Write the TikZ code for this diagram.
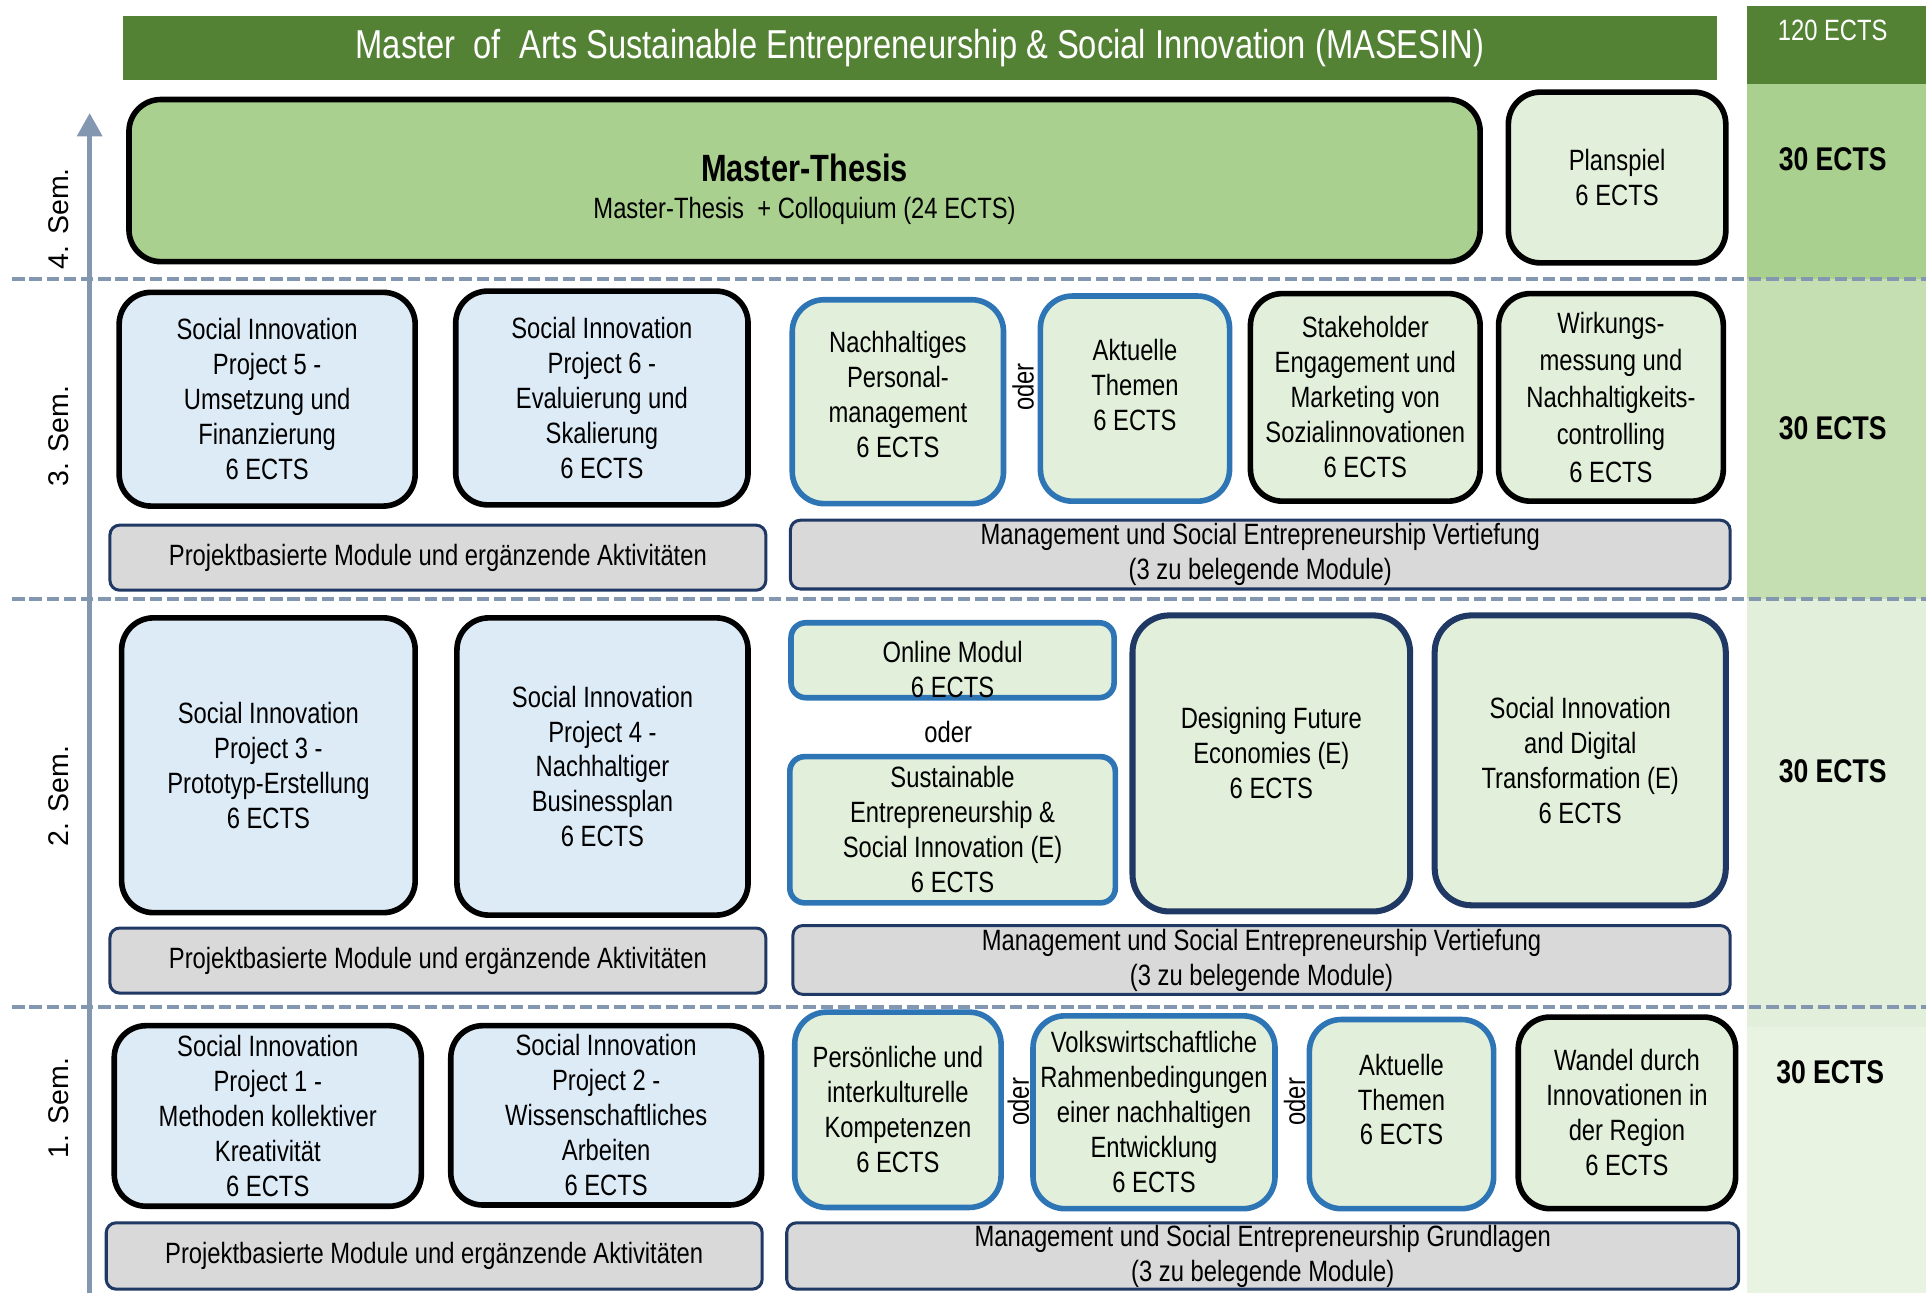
\documentclass[tikz,border=0pt]{standalone}
\usepackage{fontspec}
\setmainfont{Liberation Sans}[FakeStretch=0.81]
\newfontfamily\semfont{Liberation Sans}
\usetikzlibrary{arrows.meta}
\definecolor{darkgreen}{HTML}{548235}
\definecolor{midgreen}{HTML}{A9D08E}
\definecolor{palegreen}{HTML}{C6DFB2}
\definecolor{lightgreen}{HTML}{E2EFDA}
\definecolor{faintgreen}{HTML}{E8F3E1}
\definecolor{lightblue}{HTML}{DDEBF7}
\definecolor{modblue}{HTML}{2E75B6}
\definecolor{navy}{HTML}{203864}
\definecolor{stripgray}{HTML}{D9D9D9}
\definecolor{axisgray}{HTML}{8497B0}

\begin{document}
\begin{tikzpicture}[x=1mm, y=-1mm,
                    every node/.style={font=\fontsize{6.8}{8.1}\selectfont, align=center, inner sep=0pt},
                    project/.style={rectangle, draw=black, line width=1.3pt, fill=lightblue, rounded corners=2.6mm},
                    core/.style={rectangle, draw=black, line width=1.3pt, fill=lightgreen, rounded corners=2.6mm},
                    choice/.style={rectangle, draw=modblue, line width=1.3pt, fill=lightgreen, rounded corners=2.6mm},
                    elective/.style={rectangle, draw=navy, line width=1.4pt, fill=lightgreen, rounded corners=3mm},
                    strip/.style={rectangle, draw=navy, line width=0.7pt, fill=stripgray, rounded corners=0.8mm},
                    semline/.style={draw=axisgray, line width=0.9pt, dash pattern=on 1mm off 0.4mm},
                    sem/.style={rotate=90, font=\semfont\fontsize{6.6}{8}\selectfont},
                    oder/.style={rotate=90},
                    ects/.style={font=\fontsize{7.6}{9}\selectfont\bfseries},
                    ]

\useasboundingbox (0,0) rectangle (156.8,105.3);

% ECTS column
\fill[faintgreen] (142.2,83.6) rectangle (156.8,105.3);
\fill[lightgreen] (142.2,48.8) rectangle (156.8,83.6);
\fill[palegreen] (142.2,22.7) rectangle (156.8,48.8);
\fill[midgreen] (142.2,6.8) rectangle (156.8,22.7);
\fill[darkgreen] (142.2,0.5) rectangle (156.8,6.8);
\node[text=white, font=\fontsize{6.8}{8}\selectfont] (total) at (149.2,2.5) {120 ECTS};
\node[ects] (e4) at (149.2,13.0) {30 ECTS};
\node[ects] (e3) at (149.2,34.9) {30 ECTS};
\node[ects] (e2) at (149.2,62.8) {30 ECTS};
\node[ects] (e1) at (149.0,87.3) {30 ECTS};

% title
\node[fill=darkgreen, text=white, minimum width=129.8mm, minimum height=5.2mm,
      font=\fontsize{9.35}{10}\selectfont] (title) at (74.9,3.9)
      {Master~ of~ Arts Sustainable Entrepreneurship \& Social Innovation (MASESIN)};

% semester lines and axis
\foreach \y in {22.7,48.8,82.0}
  \draw[semline] (1.0,\y) -- (156.8,\y);
\coordinate (axisbot) at (7.3,105.3);
\coordinate (axistop) at (7.3,9.2);
\draw[axisgray, line width=1.1pt, -{Triangle[width=2mm,length=1.9mm]}] (axisbot) -- (axistop);

\node[sem] (s4) at (4.8,17.8) {4. Sem.};
\node[sem] (s3) at (4.8,35.5) {3. Sem.};
\node[sem] (s2) at (4.8,64.8) {2. Sem.};
\node[sem] (s1) at (4.8,90.2) {1. Sem.};

% 4. Semester
\node[core, fill=midgreen, minimum width=110mm, minimum height=13.2mm] (thesis) at (65.5,14.7)
      {\rule{0pt}{3.7mm}{\fontsize{8.8}{10.5}\selectfont\bfseries Master-Thesis}\\[0.2mm] Master-Thesis~ + Colloquium (24 ECTS)};
\node[core, minimum width=17.7mm, minimum height=13.9mm] (planspiel) at (131.65,14.45)
      {Planspiel\\6 ECTS};

% 3. Semester
\node[project, minimum width=24.1mm, minimum height=17.4mm] (sip5) at (21.75,32.5)
      {Social Innovation\\Project 5 -\\Umsetzung und\\Finanzierung\\6 ECTS};
\node[project, minimum width=23.8mm, minimum height=17.4mm] (sip6) at (49.0,32.4)
      {Social Innovation\\Project 6 -\\Evaluierung und\\Skalierung\\6 ECTS};
\node[choice, minimum width=17.2mm, minimum height=16.6mm, text depth=1.2mm] (personal) at (73.1,32.7)
      {Nachhaltiges\\Personal-\\management\\6 ECTS};
\node[oder] (oder3) at (83.3,31.5) {oder};
\node[choice, minimum width=15.4mm, minimum height=16.7mm, text depth=2.2mm] (themen3) at (92.4,32.45)
      {Aktuelle\\Themen\\6 ECTS};
\node[core, minimum width=18.7mm, minimum height=16.9mm] (stakeholder) at (111.15,32.35)
      {Stakeholder\\Engagement und\\Marketing von\\Sozialinnovationen\\6 ECTS};
\node[core, minimum width=18.3mm, minimum height=16.9mm, font=\fontsize{6.8}{8.6}\selectfont] (wirkung) at (131.15,32.35)
      {Wirkungs-\\messung und\\Nachhaltigkeits-\\controlling\\6 ECTS};
\node[strip, minimum width=53.4mm, minimum height=5.3mm] (pb3) at (35.65,45.4)
      {Projektbasierte Module und ergänzende Aktivitäten};
\node[strip, minimum width=76.5mm, minimum height=5.6mm] (mv3) at (102.6,45.15)
      {Management und Social Entrepreneurship Vertiefung\\(3 zu belegende Module)};

% 2. Semester
\node[project, minimum width=23.9mm, minimum height=24mm] (sip3) at (21.85,62.3)
      {Social Innovation\\Project 3 -\\Prototyp-Erstellung\\6 ECTS};
\node[project, minimum width=23.7mm, minimum height=24.2mm] (sip4) at (49.05,62.4)
      {Social Innovation\\Project 4 -\\Nachhaltiger\\Businessplan\\6 ECTS};
\node[choice, minimum width=26.3mm, minimum height=6.1mm, rounded corners=1.2mm] (online) at (77.55,53.75)
      {\rule{0pt}{3.2mm}Online Modul\\6 ECTS};
\node (oder2) at (77.2,59.6) {oder};
\node[choice, minimum width=26.5mm, minimum height=11.9mm, rounded corners=1.2mm] (sesi) at (77.55,67.55)
      {Sustainable\\Entrepreneurship \&\\Social Innovation (E)\\6 ECTS};
\node[elective, minimum width=22.6mm, minimum height=24.1mm, text depth=1.7mm] (dfe) at (103.5,62.15)
      {Designing Future\\Economies (E)\\6 ECTS};
\node[elective, minimum width=23.7mm, minimum height=23.6mm] (sidt) at (128.65,61.9)
      {Social Innovation\\and Digital\\Transformation (E)\\6 ECTS};
\node[strip, minimum width=53.4mm, minimum height=5.3mm] (pb2) at (35.65,78.2)
      {Projektbasierte Module und ergänzende Aktivitäten};
\node[strip, minimum width=76.3mm, minimum height=5.6mm] (mv2) at (102.7,78.15)
      {Management und Social Entrepreneurship Vertiefung\\(3 zu belegende Module)};

% 1. Semester
\node[project, minimum width=25mm, minimum height=14.7mm] (sip1) at (21.8,90.85)
      {Social Innovation\\Project 1 -\\Methoden kollektiver\\Kreativität\\6 ECTS};
\node[project, minimum width=25.3mm, minimum height=14.6mm] (sip2) at (49.35,90.8)
      {Social Innovation\\Project 2 -\\Wissenschaftliches\\Arbeiten\\6 ECTS};
\node[choice, minimum width=16.8mm, minimum height=15.9mm] (kompetenz) at (73.1,90.35)
      {Persönliche und\\interkulturelle\\Kompetenzen\\6 ECTS};
\node[oder] (oder1a) at (82.9,89.7) {oder};
\node[choice, minimum width=19.7mm, minimum height=15.7mm] (vwl) at (93.95,90.55)
      {Volkswirtschaftliche\\Rahmenbedingungen\\einer nachhaltigen\\Entwicklung\\6 ECTS};
\node[oder] (oder1b) at (105.4,89.7) {oder};
\node[choice, minimum width=15mm, minimum height=15.4mm, text depth=2.4mm] (themen1) at (114.1,90.7)
      {Aktuelle\\Themen\\6 ECTS};
\node[core, minimum width=17.7mm, minimum height=15.6mm] (wandel) at (132.45,90.6)
      {Wandel durch\\Innovationen in\\der Region\\6 ECTS};
\node[strip, minimum width=53.4mm, minimum height=5.4mm] (pb1) at (35.35,102.25)
      {Projektbasierte Module und ergänzende Aktivitäten};
\node[strip, minimum width=77.5mm, minimum height=5.4mm] (mg1) at (102.8,102.25)
      {Management und Social Entrepreneurship Grundlagen\\(3 zu belegende Module)};
\end{tikzpicture}
\end{document}
